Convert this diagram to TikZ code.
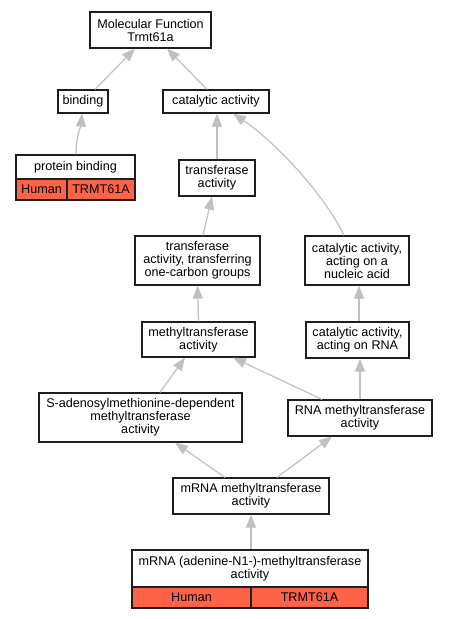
\documentclass[tikz,border=0pt]{standalone}
\usepackage{fontspec}
\setmainfont{Liberation Sans}
\usetikzlibrary{arrows.meta}
\definecolor{edgegrey}{RGB}{192,192,192}
\definecolor{tomatored}{RGB}{255,99,71}
\definecolor{boxline}{RGB}{30,30,30}
\begin{document}
\begin{tikzpicture}[x=1pt,y=-1pt,
  term/.style={draw=boxline, line width=1.2pt, fill=white, rectangle, inner sep=0pt, align=center,
    font=\fontsize{12.6}{13}\selectfont},
  cell/.style={term, fill=tomatored},
  isa/.style={draw=edgegrey, line width=1.2pt, -{Triangle[length=13pt,width=10pt]}}
]
\useasboundingbox (0,0) rectangle (448,619);
% nodes
\node[term, minimum width=121pt, minimum height=36pt] (mf) at (150.5,30) {Molecular Function\\Trmt61a};
\node[term, minimum width=50pt, minimum height=23pt] (bind) at (83,101.5) {binding};
\node[term, minimum width=106pt, minimum height=23pt] (cat) at (216,101.5) {catalytic activity};
\node[term, minimum width=119pt, minimum height=24pt] (pb) at (75.5,167) {protein binding};
\node[cell, minimum width=51pt, minimum height=21pt] (pbh) at (41.5,189.5) {Human};
\node[cell, minimum width=68pt, minimum height=21pt] (pbt) at (101,189.5) {TRMT61A};
\node[term, minimum width=76pt, minimum height=36pt] (trans) at (217,178) {transferase\\activity};
\node[term, minimum width=125pt, minimum height=49pt] (tronec) at (197.5,260.5) {transferase\\activity, transferring\\one-carbon groups};
\node[term, minimum width=104pt, minimum height=49pt] (nuc) at (357,260.5) {catalytic activity,\\acting on a\\nucleic acid};
\node[term, minimum width=113pt, minimum height=35pt] (mt) at (198.5,339.5) {methyltransferase\\activity};
\node[term, minimum width=103pt, minimum height=36pt] (rna) at (357.5,340) {catalytic activity,\\acting on RNA};
\node[term, minimum width=203pt, minimum height=49pt] (sam) at (140.5,417.5) {S-adenosylmethionine-dependent\\methyltransferase\\activity};
\node[term, minimum width=144pt, minimum height=36pt] (rnamt) at (360,418) {RNA methyltransferase\\activity};
\node[term, minimum width=156pt, minimum height=36pt] (mrnamt) at (251,496) {mRNA methyltransferase\\activity};
\node[term, minimum width=236pt, minimum height=37pt] (adn) at (250,568.5) {mRNA (adenine-N1-)-methyltransferase\\activity};
\node[cell, minimum width=119pt, minimum height=21pt] (adnh) at (191.5,597.5) {Human};
\node[cell, minimum width=117pt, minimum height=21pt] (adnt) at (309.5,597.5) {TRMT61A};
% edges
\draw[isa] ([xshift=12pt]bind.north) -- ([xshift=-15.5pt]mf.south);
\draw[isa] ([xshift=-9pt]cat.north) -- ([xshift=16.5pt]mf.south);
\draw[isa] ([xshift=0.5pt]pb.north) .. controls (76,135) and (81,126) .. ([xshift=-1pt]bind.south);
\draw[isa] (trans.north) -- ([xshift=1pt]cat.south);
\draw[isa] ([xshift=5.5pt]tronec.north) -- ([xshift=-5pt]trans.south);
\draw[isa] ([xshift=-13pt]nuc.north) .. controls (322,190) and (270,138) .. ([xshift=17pt]cat.south);
\draw[isa] (mt.north) -- (tronec.south);
\draw[isa] ([xshift=1.5pt]rna.north) -- ([xshift=2pt]nuc.south);
\draw[isa] ([xshift=19.5pt]sam.north) -- ([xshift=-13.5pt]mt.south);
\draw[isa] ([xshift=-38pt]rnamt.north) -- ([xshift=34.5pt]mt.south);
\draw[isa] (rnamt.north) -- ([xshift=2.5pt]rna.south);
\draw[isa] ([xshift=-26pt]mrnamt.north) -- ([xshift=34.5pt]sam.south);
\draw[isa] ([xshift=26pt]mrnamt.north) -- ([xshift=-28pt]rnamt.south);
\draw[isa] ([xshift=1pt]adn.north) -- (mrnamt.south);
\end{tikzpicture}
\end{document}
